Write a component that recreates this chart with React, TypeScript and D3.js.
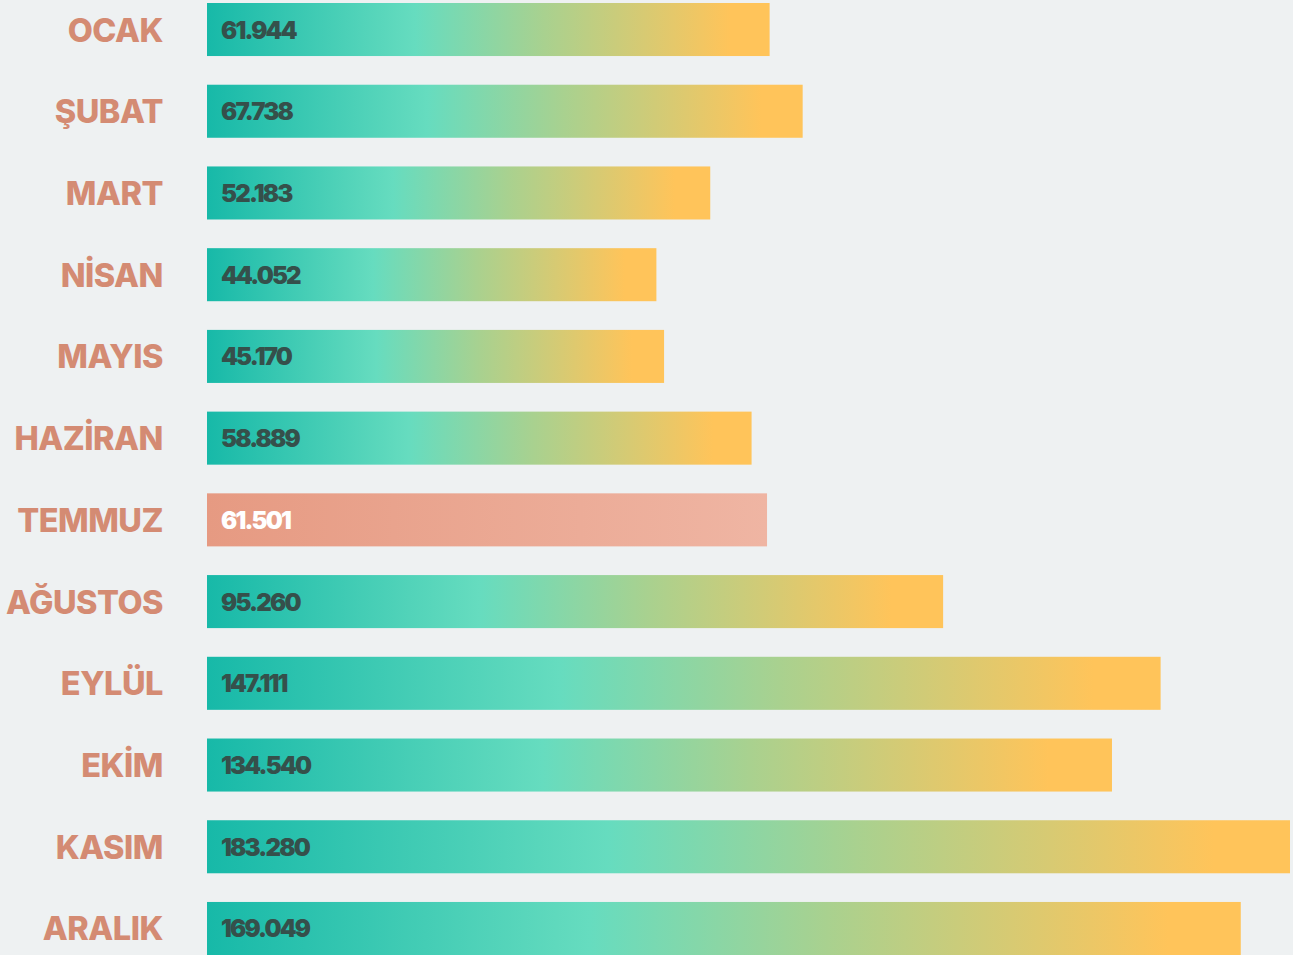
import React, { useEffect, useRef } from "react";
import * as d3 from "d3";

const months = [
  "OCAK",
  "ŞUBAT",
  "MART",
  "NİSAN",
  "MAYIS",
  "HAZİRAN",
  "TEMMUZ",
  "AĞUSTOS",
  "EYLÜL",
  "EKİM",
  "KASIM",
  "ARALIK",
];
const visitors = [
  61944, 67738, 52183, 44052, 45170, 58889, 61501, 95260, 147111, 134540,
  183280, 169049,
];
const highlight = "TEMMUZ";

const W = 1293;
const H = 955;

export default function App() {
  const ref = useRef<SVGSVGElement>(null);

  useEffect(() => {
    const svg = d3.select(ref.current);
    svg.selectAll("*").remove();

    const defs = svg.append("defs");
    const main = defs
      .append("linearGradient")
      .attr("id", "barGrad")
      .attr("x1", "0%")
      .attr("x2", "100%");
    [
      [0, "#17b9a8"],
      [0.37, "#66dcbf"],
      [0.6, "#a9d18f"],
      [0.93, "#ffc45a"],
      [1, "#ffc45a"],
    ].forEach(([o, c]) =>
      main.append("stop").attr("offset", o as number).attr("stop-color", c as string)
    );
    const hot = defs
      .append("linearGradient")
      .attr("id", "hotGrad")
      .attr("x1", "0%")
      .attr("x2", "100%");
    hot.append("stop").attr("offset", 0).attr("stop-color", "#e69a82");
    hot.append("stop").attr("offset", 1).attr("stop-color", "#efb5a3");

    // paper background
    svg.append("rect").attr("width", W).attr("height", H).attr("fill", "#eef1f2");

    const left = 207;
    // bar lengths in the original grow roughly with the square root
    const x = d3.scaleSqrt().domain([0, 183280]).range([left - 160, 1290]);
    const y = d3
      .scaleBand<string>()
      .domain(months)
      .range([3, 955])
      .paddingInner(0.351)
      .paddingOuter(0);

    const rows = svg
      .append("g")
      .selectAll("g")
      .data(months)
      .enter()
      .append("g")
      .attr("transform", (d) => `translate(0,${y(d)})`);

    rows
      .append("rect")
      .attr("x", left)
      .attr("width", (d, i) => x(visitors[i]) - left)
      .attr("height", y.bandwidth())
      .attr("fill", (d) => (d === highlight ? "url(#hotGrad)" : "url(#barGrad)"));

    rows
      .append("text")
      .attr("x", 163)
      .attr("y", y.bandwidth() / 2 + 12)
      .attr("text-anchor", "end")
      .style("font-family", "Inter, 'Open Sans', sans-serif")
      .style("font-weight", 800)
      .style("font-size", "32.5px")
      .style("letter-spacing", "-0.5px")
      .attr("fill", "#d48b73")
      .text((d) => d);

    rows
      .append("text")
      .attr("x", left + 14)
      .attr("y", y.bandwidth() / 2 + 9)
      .style("font-family", "Inter, 'Open Sans', sans-serif")
      .style("font-weight", 900)
      .style("font-size", "24px")
      .style("letter-spacing", "-1.8px")
      .attr("fill", (d) => (d === highlight ? "#ffffff" : "#35504b"))
      .text((d, i) => d3.format(",")(visitors[i]).replace(/,/g, "."));
  }, []);

  return (
    <svg
      ref={ref}
      width={W}
      height={H}
      style={{ position: "absolute", left: 0, top: 0, display: "block" }}
    />
  );
}
